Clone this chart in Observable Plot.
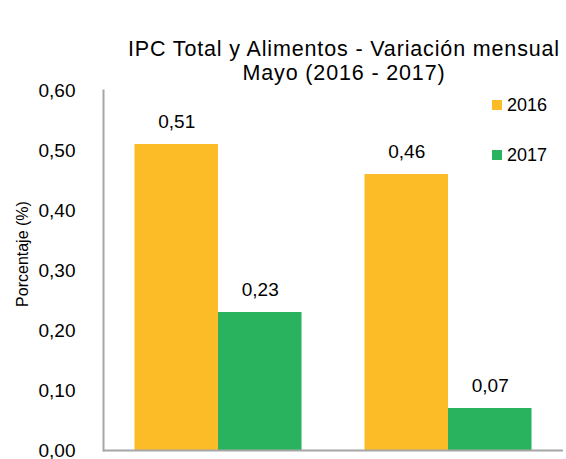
<!DOCTYPE html>
<html>
<head>
<meta charset="utf-8">
<script src="https://cdn.jsdelivr.net/npm/d3@7"></script>
<script src="https://cdn.jsdelivr.net/npm/@observablehq/plot@0.6"></script>
<style>
  body { margin: 0; background: #fff; font-family: "Liberation Sans", Arial, sans-serif; }
  #wrap { position: relative; width: 566px; height: 459px; overflow: hidden; }
  #title { position: absolute; top: 37px; left: 100px; width: 488px; text-align: center;
           font-size: 21.5px; letter-spacing: 0.85px; line-height: 24px; color: #000; }
  #chart { position: absolute; top: 80px; left: 0; }
  #ylabel { position: absolute; left: 23px; top: 254px; transform: translate(-50%, -50%) rotate(-90deg);
            font-size: 16px; white-space: nowrap; color: #000; }
  #legend { position: absolute; left: 492px; top: 94px; font-size: 18px; color: #000; }
  #legend .item { display: flex; align-items: center; height: 22px; margin-bottom: 28px; }
  #legend .sw { width: 10px; height: 10px; margin-right: 5px; }
</style>
</head>
<body>
<div id="wrap">
  <div id="title">IPC Total y Alimentos - Variación mensual<br>Mayo (2016 - 2017)</div>
  <div id="chart"></div>
  <div id="ylabel">Porcentaje (%)</div>
  <div id="legend"></div>
</div>
<script>
const categories = ["IPC Total", "Alimentos"];
const years = ["2016", "2017"];
const values2016 = [0.51, 0.46];
const values2017 = [0.23, 0.07];
const colors = ["#FBBC28", "#2AB35E"];
const yTicks = [0, 0.1, 0.2, 0.3, 0.4, 0.5, 0.6];

const data = [];
categories.forEach((c, i) => {
  data.push({cat: c, year: years[0], value: values2016[i]});
  data.push({cat: c, year: years[1], value: values2017[i]});
});
const fmt = d => d.toFixed(2).replace(".", ",");

const chart = Plot.plot({
  width: 566,
  height: 379,
  marginTop: 10,
  marginBottom: 9,
  marginLeft: 103,
  marginRight: 3,
  style: {fontFamily: "'Liberation Sans', Arial, sans-serif", color: "#000"},
  fx: {domain: categories, padding: 0, axis: null},
  x: {domain: years, paddingInner: 0, paddingOuter: 0.377, axis: null, round: false},
  y: {domain: [0, 0.6], ticks: yTicks},
  color: {domain: years, range: colors},
  marks: [
    Plot.barY(data, {fx: "cat", x: "year", y: "value", fill: "year"}),
    Plot.text(data, {fx: "cat", x: "year", y: "value", text: d => fmt(d.value), dy: -23, fontSize: 19, fill: "#000"}),
    Plot.axisY({ticks: yTicks, tickFormat: fmt, tickSize: 0, tickPadding: 28, fontSize: 19, label: null}),
    Plot.ruleY([0], {stroke: "#a6a6a6", strokeWidth: 2}),
    Plot.frame({anchor: "left", facetAnchor: "left", stroke: "#a6a6a6", strokeWidth: 2})
  ]
});
document.getElementById("chart").appendChild(chart);

const legend = document.getElementById("legend");
years.forEach((y, i) => {
  const it = document.createElement("div");
  it.className = "item";
  it.innerHTML = `<span class="sw" style="background:${colors[i]}"></span><span>${y}</span>`;
  legend.appendChild(it);
});
</script>
</body>
</html>
